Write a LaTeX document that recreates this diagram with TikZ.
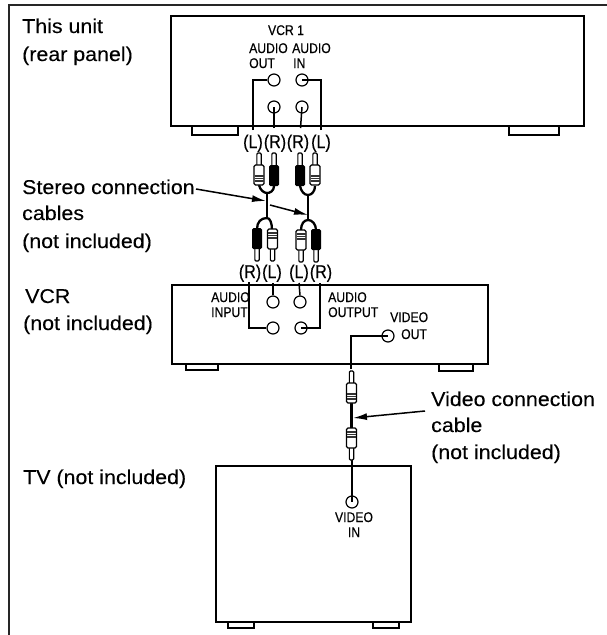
\documentclass[tikz,border=0pt]{standalone}
\usepackage{fontspec}
\usetikzlibrary{arrows.meta}
\newfontfamily\lab[FakeStretch=1.07,FakeBold=0.15]{Liberation Sans}
\newfontfamily\nar[FakeStretch=0.87,FakeBold=0.5]{Liberation Sans}
\tikzset{
  ink/.style={line width=1.5pt,black},
  devbox/.style={draw,ink,rectangle,anchor=north west,inner sep=0pt,outer sep=0pt},
  foot/.style={ink,line join=miter},
  jack/.style={draw,circle,fill=white,line width=1.2pt,minimum size=12pt,inner sep=0pt},
  wire/.style={line width=1.5pt,black},
  cablew/.style={line width=2.3pt,black},
  lead/.style={line width=1.5pt,black,-{Latex[length=14pt,width=7pt]}},
  caption/.style={inner sep=0pt,anchor=base west,font=\lab\fontsize{20}{22}\selectfont},
  tiny/.style={inner sep=0pt,anchor=base west,font=\nar\fontsize{14}{16}\selectfont},
  tinyc/.style={tiny,anchor=base},
  channel/.style={inner sep=0pt,anchor=base,font=\nar\fontsize{18.5}{20}\selectfont},
  plugw/.pic={
    \draw[line width=1.1pt,fill=white,rounded corners=1.2pt] (-2.2,0) -- (-2.2,-12) -- (2.2,-12) -- (2.2,0);
    \draw[line width=1.3pt,fill=white,rounded corners=1.5pt] (-5,0) rectangle (5,20);
    \foreach \yy in {11,13.5,16}{\draw[line width=1.1pt,black!80] (-4.5,\yy) -- (4.5,\yy);}
  },
  plugb/.pic={
    \draw[line width=1.1pt,fill=white,rounded corners=1.2pt] (-2.2,0) -- (-2.2,-12) -- (2.2,-12) -- (2.2,0);
    \fill[black,rounded corners=1.5pt] (-5,0) rectangle (5,21);
  }
}
\begin{document}
\begin{tikzpicture}[x=1pt,y=-1pt]
\useasboundingbox (0,0) rectangle (607,635);
% frame
\coordinate (fa) at (9,635); \coordinate (fb) at (9,5); \coordinate (fc) at (607,5);
\draw[line width=1.6pt,black!85] (fa) -- (fb) -- (fc);

% devices
\node[devbox,minimum width=413pt,minimum height=110pt] (unit) at (171,16) {};
\draw[foot] (192,126) -- (192,135) -- (238,135) -- (238,126);
\draw[foot] (509,126) -- (509,135) -- (559,135) -- (559,126);
\node[devbox,minimum width=316pt,minimum height=79pt] (vcr) at (172,285) {};
\draw[foot] (186,364) -- (186,370) -- (218,370) -- (218,364);
\draw[foot] (439,364) -- (439,371) -- (473,371) -- (473,364);
\node[devbox,minimum width=195pt,minimum height=156pt] (tv) at (216,466) {};
\draw[foot] (228,622) -- (228,628) -- (254,628) -- (254,622);
\draw[foot] (373,622) -- (373,628) -- (399,628) -- (399,622);

% unit jacks
\node[jack] (uol) at (274,80) {};
\node[jack] (uil) at (302,80) {};
\node[jack] (uor) at (274,107) {};
\node[jack] (uir) at (302,107) {};
\coordinate (t1) at (253,130); \coordinate (t2) at (274,128);
\coordinate (t3) at (300.5,128); \coordinate (t4) at (321,130);
\draw[wire] (t1) |- (uol.west);
\draw[wire] (t4) |- (uil.center);
\draw[wire] (t2) -- (uor.center);
\draw[wire] (t3) -- (uir.center);

% vcr jacks
\node[jack] (vil) at (273,302) {};
\node[jack] (vol) at (300,302) {};
\node[jack] (vir) at (273,328) {};
\node[jack] (vor) at (301,328) {};
\node[jack] (vout) at (388,336) {};
\coordinate (m1) at (249,282); \coordinate (m2) at (273,283);
\coordinate (m3) at (299,283); \coordinate (m4) at (320,283);
\coordinate (m5) at (351,369);
\draw[wire] (m1) |- (vir.west);
\draw[wire] (m4) |- (vor.center);
\draw[wire] (m2) -- (vil.north);
\draw[wire] (m3) -- (vol.north);
\draw[wire] (m5) |- (vout.center);

% tv jack
\node[jack] (tvin) at (352,502) {};
\coordinate (tvt) at (352,459);
\draw[wire] (tvt) -- (tvin.center);

% stereo cables
\coordinate (ja) at (267,193); \coordinate (jb) at (267,218);
\coordinate (jc) at (308,195); \coordinate (jd) at (308,220);
\draw[cablew] (259,185) .. controls (260,190) and (264,193) .. (ja) .. controls (270,193) and (274,191) .. (274,186);
\draw[cablew] (ja) -- (jb);
\draw[cablew] (257,229) .. controls (257,222) and (261,218) .. (jb) .. controls (270,218) and (272,223) .. (272,230);
\draw[cablew] (300,186) .. controls (301,191) and (304,195) .. (jc) .. controls (312,195) and (315,191) .. (315,186);
\draw[cablew] (jc) -- (jd);
\draw[cablew] (301,230) .. controls (301,224) and (304,220) .. (jd) .. controls (312,220) and (316,224) .. (316,230);

% stereo plugs
\pic at (259,165) {plugw};
\pic at (274,165) {plugb};
\pic at (300,165) {plugb};
\pic at (315,165) {plugw};
\pic[yscale=-1] at (257,249) {plugb};
\pic[yscale=-1] at (272.5,249) {plugw};
\pic[yscale=-1] at (301,250) {plugw};
\pic[yscale=-1] at (316,250) {plugb};

% video cable
\coordinate (va) at (351.5,402); \coordinate (vb) at (351.5,429);
\draw[cablew] (va) -- (vb);
\pic at (351.5,383) {plugw};
\pic[yscale=-1] at (351.5,448) {plugw};

% leader arrows
\coordinate (s1) at (196,189); \coordinate (s2) at (266,201);
\coordinate (s3) at (270,205); \coordinate (s4) at (308,215);
\coordinate (s5) at (425,411); \coordinate (s6) at (353,418);
\draw[lead] (s1) -- (s2);
\draw[lead] (s3) -- (s4);
\draw[lead] (s5) -- (s6);

% captions
\node[caption] (c1) at (22,33) {This unit};
\node[caption] (c2) at (22,61) {(rear panel)};
\node[caption] (c3) at (22,194) {Stereo connection};
\node[caption] (c4) at (22,220) {cables};
\node[caption] (c5) at (22,248) {(not included)};
\node[caption] (c6) at (25,303) {VCR};
\node[caption] (c7) at (23,330) {(not included)};
\node[caption] (c8) at (23,484) {TV (not included)};
\node[caption] (c9) at (431,406) {Video connection};
\node[caption] (c10) at (431,432) {cable};
\node[caption] (c11) at (431,459) {(not included)};

% small labels
\node[tinyc] (l1) at (286,35) {VCR 1};
\node[tiny] (l2) at (249,53) {AUDIO};
\node[tiny] (l3) at (292,53) {AUDIO};
\node[tiny] (l4) at (249,68) {OUT};
\node[tiny] (l5) at (293,68) {IN};
\node[tiny] (l6) at (211,302) {AUDIO};
\node[tiny] (l7) at (211,317) {INPUT};
\node[tiny] (l8) at (328,302) {AUDIO};
\node[tiny] (l9) at (328,317) {OUTPUT};
\node[tiny] (l10) at (390,322) {VIDEO};
\node[tiny] (l11) at (401,339) {OUT};
\node[tinyc] (l12) at (354,522) {VIDEO};
\node[tinyc] (l13) at (354,537) {IN};

% channel labels
\node[channel] (p1) at (253,148) {(L)};
\node[channel] (p2) at (275,148) {(R)};
\node[channel] (p3) at (298,148) {(R)};
\node[channel] (p4) at (321,148) {(L)};
\node[channel] (p5) at (250,278) {(R)};
\node[channel] (p6) at (272,278) {(L)};
\node[channel] (p7) at (299,278) {(L)};
\node[channel] (p8) at (321,278) {(R)};
\end{tikzpicture}
\end{document}
